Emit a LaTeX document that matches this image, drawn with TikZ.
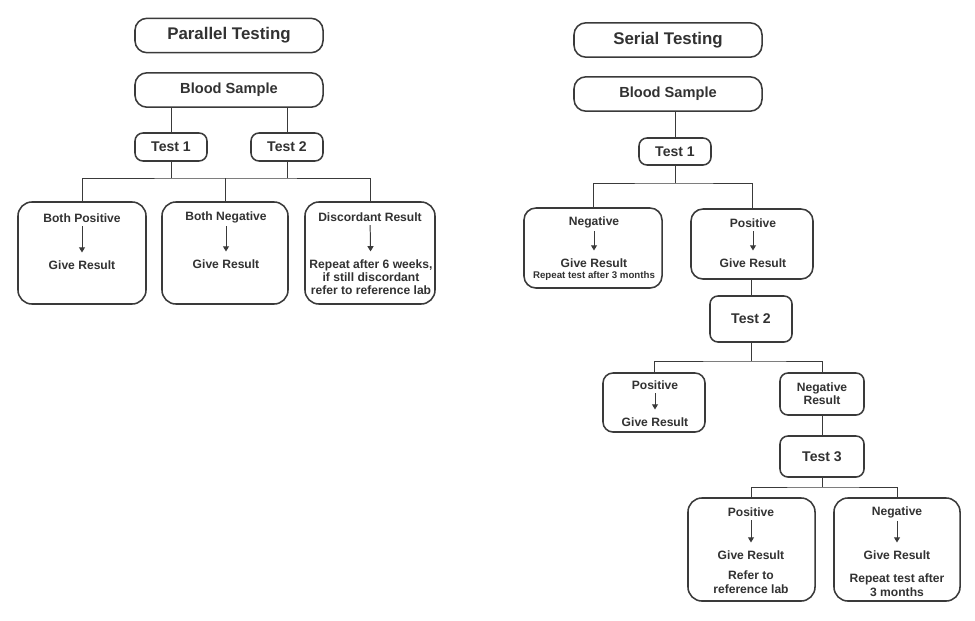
\documentclass[tikz,border=0pt]{standalone}
\usepackage{fontspec}
\setmainfont{Liberation Sans}
\usetikzlibrary{arrows.meta,positioning}
\definecolor{flLine}{RGB}{58,58,58}
\definecolor{flText}{RGB}{50,50,50}

\begin{document}
\begin{tikzpicture}[
  x=0.025cm, y=-0.025cm,
  font=\bfseries\fontsize{8.6}{9.6}\selectfont, text=flText,
  head/.style={draw=flLine, line width=1.1pt, rounded corners=3mm, minimum width=4.7cm,
               minimum height=0.86cm, font=\bfseries\fontsize{12}{14}\selectfont},
  sample/.style={head, font=\bfseries\fontsize{10.4}{12}\selectfont},
  tst/.style={draw=flLine, line width=1.1pt, rounded corners=2mm, minimum width=1.8cm,
              minimum height=0.7cm, font=\bfseries\fontsize{10}{12}\selectfont},
  res/.style={draw=flLine, line width=1.1pt, rounded corners=3.5mm},
  lbl/.style={inner sep=1pt, align=center},
  small/.style={lbl, font=\bfseries\fontsize{6.9}{8}\selectfont},
  wire/.style={draw=flLine, line width=0.7pt},
  ar/.style={-{Triangle[length=1.3mm, width=1.5mm]}, draw=flLine, line width=0.7pt,
             shorten <=0.5mm, shorten >=1.6mm}
]
\useasboundingbox[fill=white] (0,0) rectangle (975,620);

% parallel testing
\node[head] (ptitle) at (229,35.5) {Parallel Testing};
\node[sample] (pblood) at (229,90) {Blood Sample};
\node[tst] (ptest1) at (171,147) {Test 1};
\node[tst] (ptest2) at (287,147) {Test 2};
\node[res, minimum width=3.2cm, minimum height=2.55cm] (pboth) at (82,253) {};
\node[res, minimum width=3.15cm, minimum height=2.55cm] (pneg) at (225,253) {};
\node[res, minimum width=3.25cm, minimum height=2.55cm] (pdisc) at (370,253) {};

\node[lbl] (pbothA) at (82,218) {Both Positive};
\node[lbl] (pbothB) at (82,265) {Give Result};
\node[lbl] (pnegA) at (226,217) {Both Negative};
\node[lbl] (pnegB) at (226,264) {Give Result};
\node[lbl] (pdiscA) at (370,217) {Discordant Result};
\node[lbl, font=\bfseries\fontsize{8.6}{9.3}\selectfont] (pdiscB) at (371,277)
  {Repeat after 6 weeks,\\if still discordant\\refer to reference lab};

\coordinate (pbus) at (225,178);
\draw[wire] (ptest1.north) -- (ptest1.north |- pblood.south);
\draw[wire] (ptest2.north) -- (ptest2.north |- pblood.south);
\draw[wire] (ptest1.south) -- (ptest1.south |- pbus);
\draw[wire] (ptest2.south) -- (ptest2.south |- pbus);
\draw[wire] (pboth.north) |- (pbus) -| (pdisc.north);
\draw[wire] (pneg.north) -- (pneg.north |- pbus);

% serial testing
\node[head] (stitle) at (668,40) {Serial Testing};
\node[sample] (sblood) at (668,94) {Blood Sample};
\node[tst, minimum height=0.675cm] (stest1) at (675,151.5) {Test 1};
\node[res, rounded corners=3mm, minimum width=3.45cm, minimum height=2cm] (sneg) at (593,248) {};
\node[res, rounded corners=3mm, minimum width=3.05cm, minimum height=1.75cm] (spos) at (752,244) {};
\node[tst, minimum width=2.05cm, minimum height=1.15cm] (stest2) at (751,319) {Test 2};
\node[res, rounded corners=2.5mm, minimum width=2.55cm, minimum height=1.475cm] (spos2) at (654,402.5) {};
\node[tst, minimum width=2.1cm, minimum height=1.05cm, align=center,
      font=\bfseries\fontsize{8.6}{9.3}\selectfont] (snegres) at (822,394) {Negative\\Result};
\node[tst, minimum width=2.1cm, minimum height=1.025cm] (stest3) at (822,456.5) {Test 3};
\node[res, minimum width=3.175cm, minimum height=2.575cm] (spos3) at (751.5,549.5) {};
\node[res, minimum width=3.15cm, minimum height=2.575cm] (sneg3) at (897,549.5) {};

\node[lbl] (snegA) at (594,222) {Negative};
\node[lbl] (snegB) at (594,263) {Give Result};
\node[small] (snegC) at (594,275.5) {Repeat test after 3 months};
\node[lbl] (sposA) at (753,223) {Positive};
\node[lbl] (sposB) at (753,263) {Give Result};
\node[lbl] (spos2A) at (655,385) {Positive};
\node[lbl] (spos2B) at (655,422) {Give Result};
\node[lbl] (spos3A) at (751,512) {Positive};
\node[lbl] (spos3B) at (751,555) {Give Result};
\node[lbl] (spos3C) at (751,582) {Refer to\\reference lab};
\node[lbl] (sneg3A) at (897,512) {Negative};
\node[lbl] (sneg3B) at (897,555) {Give Result};
\node[lbl] (sneg3C) at (897,585) {Repeat test after\\3 months};

\coordinate (sbus1) at (675,183);
\coordinate (sbus2) at (751,361);
\coordinate (sbus3) at (822,487);
\draw[wire] (stest1.north) -- (stest1.north |- sblood.south);
\draw[wire] (stest1.south) -- (sbus1);
\draw[wire] (sneg.north) |- (sbus1) -| (spos.north);
\draw[wire] (stest2.north) -- (stest2.north |- spos.south);
\draw[wire] (stest2.south) -- (sbus2);
\draw[wire] (spos2.north) |- (sbus2) -| (snegres.north);
\draw[wire] (snegres.south) -- (stest3.north);
\draw[wire] (stest3.south) -- (sbus3);
\draw[wire] (spos3.north) |- (sbus3) -| (sneg3.north);

\foreach \a/\b in {pbothA/pbothB, pnegA/pnegB, pdiscA/pdiscB, snegA/snegB, sposA/sposB,
                   spos2A/spos2B, spos3A/spos3B, sneg3A/sneg3B}
  \draw[ar] (\a) -- (\b);

\end{tikzpicture}
\end{document}
